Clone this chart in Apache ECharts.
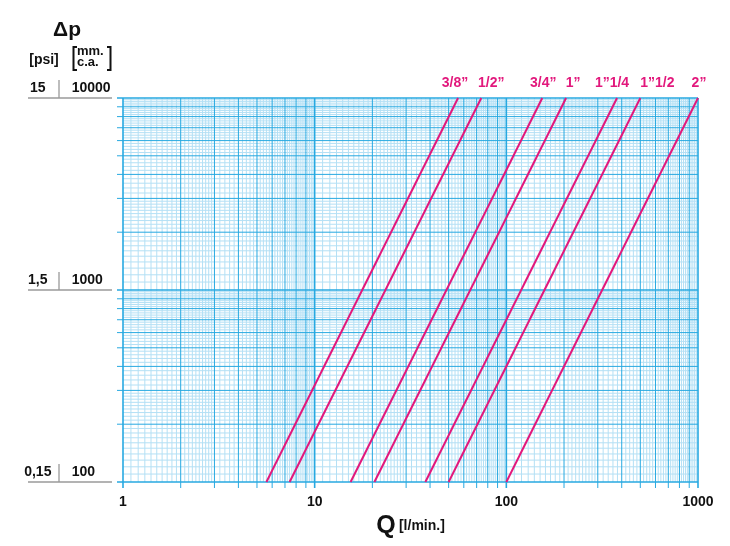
<!DOCTYPE html>
<html><head><meta charset="utf-8">
<script src="https://cdn.jsdelivr.net/npm/echarts@6/dist/echarts.min.js"></script>
<style>html,body{margin:0;padding:0;background:#fff}#c{width:730px;height:546px}</style>
</head><body><div id="c"></div>
<script>
// ---- data ----
const sizeLabels = ['3/8\u201D', '1/2\u201D', '3/4\u201D', '1\u201D', '1\u201D1/4', '1\u201D1/2', '2\u201D'];
const flowAtLow  = [5.6, 7.4, 15.4, 20.5, 37.8, 50, 100];     // l/min at 100 mm c.a.
const flowAtHigh = [56, 74, 154, 205, 378, 500, 1000];        // l/min at 10000 mm c.a.
const dpRange = [100, 10000];        // mm c.a.
const qRange = [1, 1000];            // l/min
const xTickValues = [1, 10, 100, 1000];
const xTickLabels = ['1', '10', '100', '1000'];
const yTickMM = [100, 1000, 10000];
const yTickMMLabels = ['100', '1000', '10000'];
const yTickPsi = ['0,15', '1,5', '15'];
const xDecades = [1, 10, 100];
const yDecades = [100, 1000];
const majorMantissa = [2, 3, 4, 5, 6, 7, 8, 9];
const minorMantissa = [1.1, 1.2, 1.3, 1.4, 1.5, 1.6, 1.7, 1.8, 1.9,
  2.1, 2.2, 2.3, 2.4, 2.5, 2.6, 2.7, 2.8, 2.9,
  3.2, 3.4, 3.6, 3.8, 4.2, 4.4, 4.6, 4.8, 5.2, 5.4, 5.6, 5.8,
  6.2, 6.4, 6.6, 6.8, 7.2, 7.4, 7.6, 7.8, 8.2, 8.4, 8.6, 8.8, 9.2, 9.4, 9.6, 9.8];

// ---- styles ----
const FONT = '"Liberation Sans", Arial, Helvetica, sans-serif';
const PINK = '#e2187c';
const MAJOR = '#27a9e1';
const MINOR = '#b4e0f5';
const GRAY = '#9a9a9a';
const labelDx = [-3, 10, 1, 7, -5, 17, 1];

function gridValues(decades, lastDecade) {
  const out = [];
  decades.forEach(d => minorMantissa.forEach(m => out.push([+(d * m).toPrecision(6), 0])));
  decades.forEach(d => majorMantissa.forEach(m => out.push([+(d * m).toPrecision(6), 1])));
  decades.concat([lastDecade]).forEach(d => out.push([d, 2]));
  return out;
}
const xGrid = gridValues(xDecades, 1000);
const yGrid = gridValues(yDecades, 10000);

function vLine(params, api) {
  const v = api.value(0), lvl = api.value(2);
  const a = api.coord([v, dpRange[1]]), b = api.coord([v, dpRange[0]]);
  return { type: 'line', shape: { x1: a[0], y1: a[1], x2: b[0], y2: b[1] + (lvl > 0 ? 6 : 0) },
    style: { stroke: lvl > 0 ? MAJOR : MINOR, lineWidth: lvl === 2 ? 1.6 : 1 } };
}
function hLine(params, api) {
  const v = api.value(1), lvl = api.value(2);
  const a = api.coord([qRange[0], v]), b = api.coord([qRange[1], v]);
  return { type: 'line', shape: { x1: a[0] - (lvl > 0 ? 6 : 0), y1: a[1], x2: b[0], y2: b[1] },
    style: { stroke: lvl > 0 ? MAJOR : MINOR, lineWidth: lvl === 2 ? 1.6 : 1 } };
}
function decor(params, api) {
  const p = api.coord([qRange[0], api.value(1)]);
  return { type: 'group', children: [
    { type: 'line', shape: { x1: p[0] - 95, y1: p[1], x2: p[0] - 11, y2: p[1] }, style: { stroke: GRAY, lineWidth: 1.3 } },
    { type: 'line', shape: { x1: p[0] - 64, y1: p[1] - 18, x2: p[0] - 64, y2: p[1] }, style: { stroke: GRAY, lineWidth: 1.3 } }
  ] };
}

const series = [
  { type: 'custom', renderItem: vLine, silent: true, z: 1, encode: { x: 0, y: 1 },
    data: xGrid.filter(g => g[1] === 0).map(g => [g[0], dpRange[0], 0]) },
  { type: 'custom', renderItem: hLine, silent: true, z: 1, encode: { x: 0, y: 1 },
    data: yGrid.filter(g => g[1] === 0).map(g => [qRange[0], g[0], 0]) },
  { type: 'custom', renderItem: vLine, silent: true, z: 2, encode: { x: 0, y: 1 },
    data: xGrid.filter(g => g[1] > 0).map(g => [g[0], dpRange[0], g[1]]) },
  { type: 'custom', renderItem: hLine, silent: true, z: 2, encode: { x: 0, y: 1 },
    data: yGrid.filter(g => g[1] > 0).map(g => [qRange[0], g[0], g[1]]) },
  { type: 'custom', renderItem: decor, silent: true, z: 2, encode: { x: 0, y: 1 },
    data: yTickMM.map(v => [qRange[0], v]) }
];
sizeLabels.forEach((name, i) => {
  series.push({
    type: 'line', name: name, z: 5, silent: true,
    symbol: 'circle', symbolSize: 0, showSymbol: true,
    lineStyle: { color: PINK, width: 2 }, itemStyle: { color: PINK },
    data: [
      [flowAtLow[i], dpRange[0]],
      { value: [flowAtHigh[i], dpRange[1]],
        label: { show: true, position: 'top', distance: 8, offset: [labelDx[i], 0], formatter: name,
          color: PINK, fontFamily: FONT, fontWeight: 'bold', fontSize: 14 } }
    ]
  });
});

const yBase = {
  type: 'log', logBase: 10, min: dpRange[0], max: dpRange[1], gridIndex: 0, position: 'left', offset: 0,
  axisLine: { show: false }, axisTick: { show: false }, splitLine: { show: false }
};
const yLabelStyle = { verticalAlign: 'bottom', padding: [0, 0, 3, 0], fontFamily: FONT, fontWeight: 'bold', fontSize: 14, color: '#111' };

const chart = echarts.init(document.getElementById('c'), null, { renderer: 'canvas' });
chart.setOption({
  animation: false,
  backgroundColor: '#fff',
  grid: { left: 123, top: 98, width: 575, height: 384 },
  xAxis: {
    type: 'log', logBase: 10, min: qRange[0], max: qRange[1],
    axisLine: { show: false }, axisTick: { show: false }, splitLine: { show: false },
    axisLabel: { fontFamily: FONT, fontWeight: 'bold', fontSize: 14, color: '#111', margin: 13,
      formatter: v => { const k = xTickValues.indexOf(Math.round(v)); return k >= 0 ? xTickLabels[k] : ''; } },
    name: '{q|Q} {u|[l/min.]}', nameLocation: 'middle', nameGap: 30,
    nameTextStyle: { rich: {
      q: { fontFamily: FONT, fontWeight: 'bold', fontSize: 25, color: '#111' },
      u: { fontFamily: FONT, fontWeight: 'bold', fontSize: 14, color: '#111' } } }
  },
  yAxis: [
    Object.assign({}, yBase, {
      axisLabel: Object.assign({}, yLabelStyle, { align: 'left', margin: 51.3,
        formatter: v => { const k = yTickMM.indexOf(Math.round(v)); return k >= 0 ? yTickMMLabels[k] : ''; } })
    }),
    Object.assign({}, yBase, {
      axisLabel: Object.assign({}, yLabelStyle, { align: 'center', margin: 85.2,
        formatter: v => { const k = yTickMM.indexOf(Math.round(v)); return k >= 0 ? yTickPsi[k] : ''; } })
    })
  ],
  graphic: [
    { type: 'text', x: 67, y: 30, style: { text: '\u0394p', align: 'center', verticalAlign: 'middle', font: 'bold 21px ' + FONT, fill: '#111' } },
    { type: 'text', x: 44, y: 60.5, style: { text: '[psi]', align: 'center', verticalAlign: 'middle', font: 'bold 14px ' + FONT, fill: '#111' } },
    { type: 'text', x: 77, y: 51.5, style: { text: 'mm.', align: 'left', verticalAlign: 'middle', font: 'bold 13px ' + FONT, fill: '#111' } },
    { type: 'text', x: 77, y: 62.5, style: { text: 'c.a.', align: 'left', verticalAlign: 'middle', font: 'bold 13px ' + FONT, fill: '#111' } },
    { type: 'polyline', shape: { points: [[77, 47], [73.5, 47], [73.5, 70], [77, 70]] }, style: { stroke: '#111', lineWidth: 2, fill: null } },
    { type: 'polyline', shape: { points: [[107, 47], [110.5, 47], [110.5, 70], [107, 70]] }, style: { stroke: '#111', lineWidth: 2, fill: null } }
  ],
  series: series
});
</script></body></html>
